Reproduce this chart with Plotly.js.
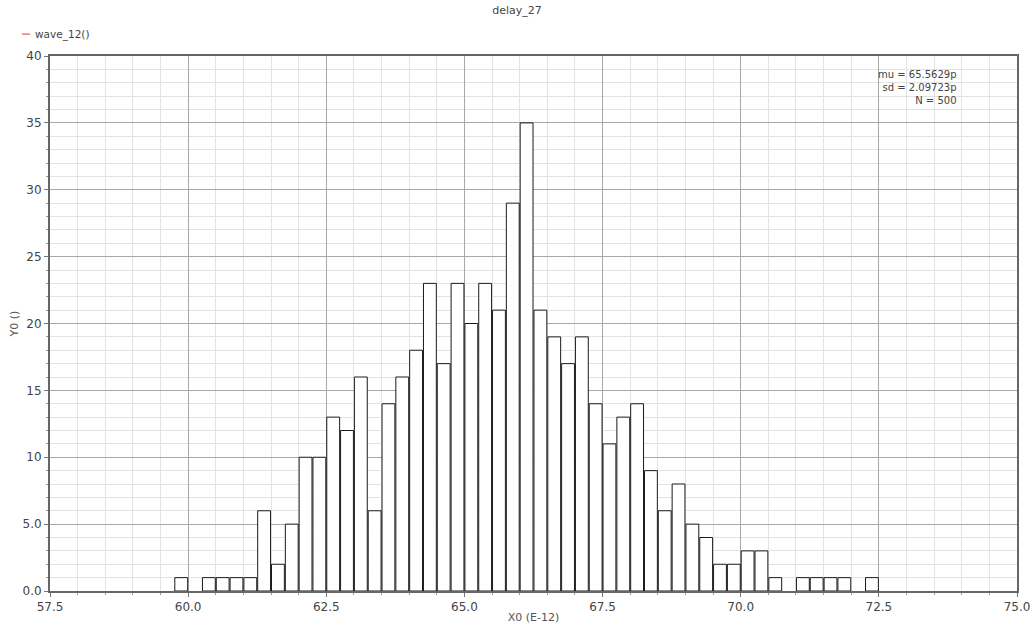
<!DOCTYPE html>
<html>
<head>
<meta charset="utf-8">
<script src="https://cdn.plot.ly/plotly-3.0.1.min.js"></script>
<style>html,body{margin:0;padding:0;background:#fff}#chart{width:1036px;height:625px}</style>
</head>
<body>
<div id="chart"></div>
<script>
// Histogram data: bins of 0.25 starting at 59.75
const binStart = 59.75;
const binWidth = 0.25;
const counts = [1,0,1,1,1,1,6,2,5,10,10,13,12,16,6,14,16,18,23,17,23,20,23,21,29,35,21,19,17,19,14,11,13,14,9,6,8,5,4,2,2,3,3,1,0,1,1,1,1,0,1];
const xTickVals = [57.5,60,62.5,65,67.5,70,72.5,75];
const xTickText = ["57.5","60.0","62.5","65.0","67.5","70.0","72.5","75.0"];
const yTickVals = [0,5,10,15,20,25,30,35,40];
const yTickText = ["0.0","5.0","10","15","20","25","30","35","40"];
const statLines = ["mu = 65.5629p","sd = 2.09723p","N = 500"];
const titleText = "delay_27";
const legendText = "wave_12()";

const xs = [], ys = [];
counts.forEach((c, i) => { if (c > 0) { xs.push(binStart + binWidth * (i + 0.5)); ys.push(c); } });

const font = "DejaVu Sans, sans-serif";
const trace = {
  type: "bar", x: xs, y: ys, width: binWidth * 0.93,
  marker: {color: "#ffffff", line: {color: "#1a1a1a", width: 1}},
  hoverinfo: "x+y", showlegend: false
};

const layout = {
  width: 1036, height: 625,
  margin: {l: 50, r: 19, t: 56, b: 34},
  paper_bgcolor: "#fff", plot_bgcolor: "#fff",
  showlegend: false,
  font: {family: font, size: 12, color: "#444"},
  xaxis: {
    range: [57.5, 75], tickvals: xTickVals, ticktext: xTickText,
    showgrid: true, gridcolor: "#a8a8a8", gridwidth: 1,
    ticks: "outside", ticklen: 4, tickcolor: "#777",
    minor: {dtick: 0.5, showgrid: true, gridcolor: "#e3e3e3", ticks: "outside", ticklen: 2, tickcolor: "#999"},
    showline: true, linecolor: "#666", linewidth: 2, mirror: true,
    zeroline: false, tickfont: {family: font, size: 12, color: "#444"},
    title: {text: "X0 (E-12)", font: {family: font, size: 11, color: "#555"}, standoff: 0}
  },
  yaxis: {
    range: [0, 40], tickvals: yTickVals, ticktext: yTickText,
    showgrid: true, gridcolor: "#a8a8a8", gridwidth: 1,
    ticks: "outside", ticklen: 4, tickcolor: "#777",
    minor: {dtick: 1, showgrid: true, gridcolor: "#e3e3e3", ticks: "outside", ticklen: 2, tickcolor: "#999"},
    showline: true, linecolor: "#666", linewidth: 2, mirror: true,
    zeroline: false, tickfont: {family: font, size: 12, color: "#444"},
    title: {text: "Y0 ()", font: {family: font, size: 11, color: "#555"}, standoff: 2}
  },
  title: {text: titleText, font: {family: font, size: 11, color: "#444"}, x: 0.499, xanchor: "center", y: 0.99, yanchor: "top"},
  annotations: [
    {xref: "paper", yref: "paper", x: 0.9385, y: 0.941, xanchor: "right", yanchor: "middle", align: "right", showarrow: false,
     text: statLines.join("<br>"), font: {family: font, size: 10, color: "#444"}, borderpad: 0},
    {xref: "paper", yref: "paper", x: -0.0175, y: 1.041, xanchor: "left", yanchor: "middle", showarrow: false,
     text: legendText, font: {family: font, size: 10.5, color: "#444"}}
  ],
  shapes: [
    {type: "line", xref: "paper", yref: "paper", x0: -0.029, x1: -0.0205, y0: 1.041, y1: 1.041, line: {color: "#e03a3a", width: 1}}
  ]
};

Plotly.newPlot("chart", [trace], layout, {displayModeBar: false, staticPlot: true});
</script>
</body>
</html>
